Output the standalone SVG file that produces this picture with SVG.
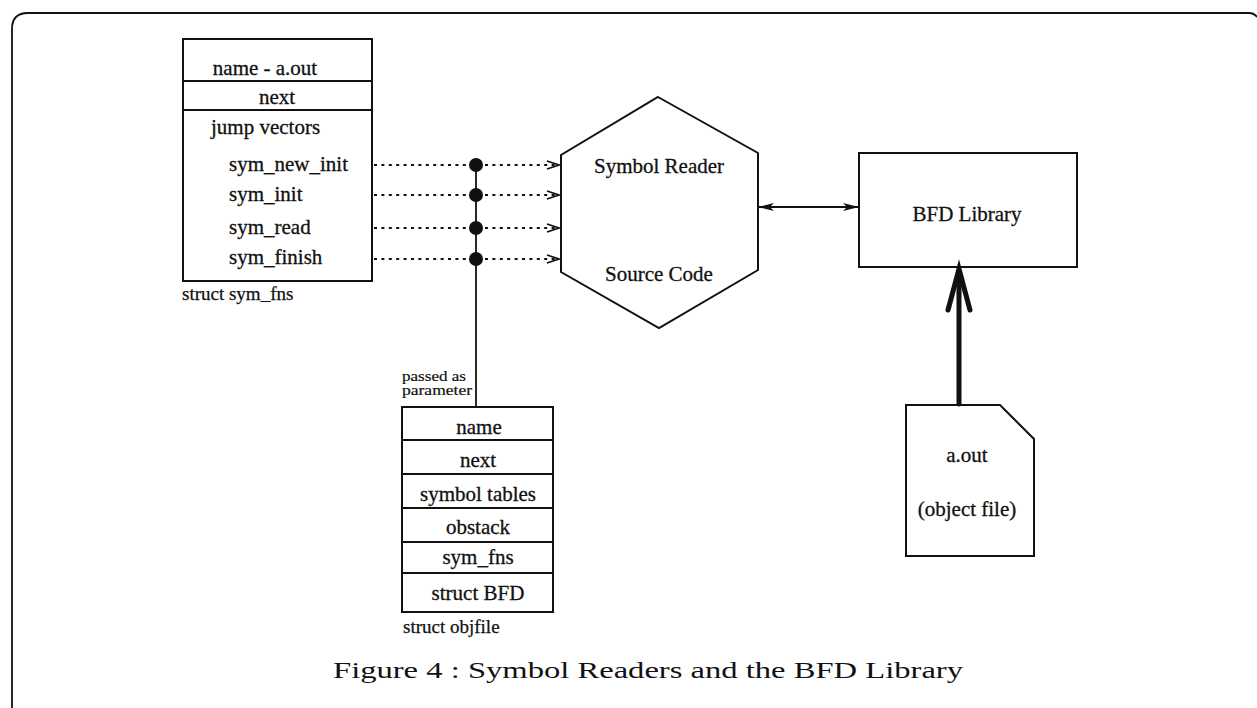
<svg xmlns="http://www.w3.org/2000/svg" width="1257" height="708" viewBox="0 0 1257 708">
  <style>
    .ln { fill: none; stroke: #111; stroke-width: 1.8; }
    .box { fill: #fff; stroke: #111; stroke-width: 2; }
    .t { font-family: "Liberation Serif", "Times New Roman", serif; font-size: 21px; fill: #111; stroke: #111; stroke-width: 0.3; }
    .c { text-anchor: middle; }
    .small { font-family: "Liberation Serif", "Times New Roman", serif; font-size: 15px; fill: #111; stroke: #111; stroke-width: 0.2; }
    .lbl { font-family: "Liberation Serif", "Times New Roman", serif; font-size: 19px; fill: #111; stroke: #111; stroke-width: 0.25; }
    .dot { fill: none; stroke: #111; stroke-width: 2.2; stroke-dasharray: 3 4.4; }
    .head { fill: none; stroke: #111; stroke-width: 1.8; stroke-linejoin: miter; }
    .cap { font-family: "Liberation Serif", "DejaVu Serif", serif; font-size: 24px; fill: #111; }
  </style>
  <defs>
    <marker id="barb" viewBox="0 0 16 10" refX="15" refY="5" markerWidth="16" markerHeight="10" markerUnits="userSpaceOnUse" orient="auto-start-reverse">
      <path d="M0,1 L16,5 L0,9 L4,5 Z" fill="#111"/>
    </marker>
  </defs>

  <rect width="1257" height="708" fill="#fff"/>

  <!-- page frame -->
  <path class="ln" d="M12,740 L12,29 Q12,13 28,13 L1249,13 Q1254,13 1257,17" stroke-width="1.6"/>

  <!-- struct sym_fns -->
  <g id="sym_fns">
    <rect class="box" x="183" y="39" width="189" height="242"/>
    <line class="ln" x1="183" y1="81" x2="372" y2="81" stroke-width="2"/>
    <line class="ln" x1="183" y1="110" x2="372" y2="110" stroke-width="2"/>
    <text class="t c" x="265" y="75">name - a.out</text>
    <text class="t c" x="277" y="104">next</text>
    <text class="t" x="211" y="134">jump vectors</text>
    <text class="t" x="229" y="171">sym_new_init</text>
    <text class="t" x="229" y="201">sym_init</text>
    <text class="t" x="229" y="234">sym_read</text>
    <text class="t" x="229" y="264">sym_finish</text>
    <text class="lbl" x="182" y="300">struct sym_fns</text>
  </g>

  <!-- symbol reader hexagon -->
  <g id="reader">
    <polygon class="box" points="658,97 758,153 758,270 659,328 561,272 561,155"/>
    <text class="t c" x="659" y="173">Symbol Reader</text>
    <text class="t c" x="659" y="281">Source Code</text>
  </g>

  <!-- BFD library -->
  <g id="bfd">
    <rect class="box" x="859" y="153" width="218" height="114"/>
    <text class="t c" x="967" y="221">BFD Library</text>
  </g>

  <!-- object file -->
  <g id="aout">
    <polygon class="box" points="906,405 1000,405 1034,439 1034,556 906,556"/>
    <text class="t c" x="967" y="462">a.out</text>
    <text class="t c" x="967" y="516">(object file)</text>
  </g>

  <!-- struct objfile -->
  <g id="objfile">
    <rect class="box" x="402" y="407" width="151" height="205"/>
    <line class="ln" x1="402" y1="440" x2="553" y2="440" stroke-width="2"/>
    <line class="ln" x1="402" y1="474" x2="553" y2="474" stroke-width="2"/>
    <line class="ln" x1="402" y1="508" x2="553" y2="508" stroke-width="2"/>
    <line class="ln" x1="402" y1="542" x2="553" y2="542" stroke-width="2"/>
    <line class="ln" x1="402" y1="573" x2="553" y2="573" stroke-width="2"/>
    <text class="t c" x="479" y="434">name</text>
    <text class="t c" x="478" y="467">next</text>
    <text class="t c" x="478" y="501">symbol tables</text>
    <text class="t c" x="478" y="534">obstack</text>
    <text class="t c" x="478" y="564">sym_fns</text>
    <text class="t c" x="478" y="600">struct BFD</text>
    <text class="lbl" x="403" y="633">struct objfile</text>
  </g>

  <!-- connectors -->
  <g id="connectors">
    <line class="dot" x1="374" y1="165" x2="559" y2="165"/>
    <line class="dot" x1="374" y1="195" x2="559" y2="195"/>
    <line class="dot" x1="374" y1="228" x2="559" y2="228"/>
    <line class="dot" x1="374" y1="259" x2="559" y2="259"/>
    <polyline class="head" points="547,161 559,165 547,169"/>
    <polyline class="head" points="547,191 559,195 547,199"/>
    <polyline class="head" points="547,224 559,228 547,232"/>
    <polyline class="head" points="547,255 559,259 547,263"/>

    <line class="ln" x1="476" y1="165" x2="476" y2="407" stroke-width="2"/>
    <circle cx="476" cy="165" r="7" fill="#111"/>
    <circle cx="476" cy="195" r="7" fill="#111"/>
    <circle cx="476" cy="228" r="7" fill="#111"/>
    <circle cx="476" cy="259" r="7" fill="#111"/>
    <text class="small" x="402" y="381" textLength="64" lengthAdjust="spacingAndGlyphs">passed as</text>
    <text class="small" x="402" y="395" textLength="70" lengthAdjust="spacingAndGlyphs">parameter</text>

    <line class="ln" x1="759" y1="207" x2="858" y2="207" stroke-width="2.2" marker-start="url(#barb)" marker-end="url(#barb)"/>

    <line x1="959" y1="404" x2="959" y2="272" stroke="#111" stroke-width="5" stroke-linecap="round"/>
    <path d="M948,310 L959,269 L970,310" fill="none" stroke="#111" stroke-width="5" stroke-linecap="round" stroke-linejoin="miter"/>
    <path d="M955,285 L959,268 L963,285 Z" fill="#111"/>
  </g>

  <!-- caption -->
  <text class="cap" x="333" y="678" textLength="630" lengthAdjust="spacingAndGlyphs">Figure 4 : Symbol Readers and the BFD Library</text>
</svg>
